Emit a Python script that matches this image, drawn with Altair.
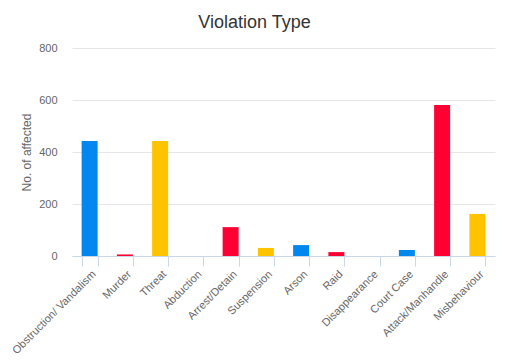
import altair as alt
import pandas as pd

categories = ["Obstruction/ Vandalism", "Murder", "Threat", "Abduction", "Arrest/Detain",
              "Suspension", "Arson", "Raid", "Disappearance", "Court Case",
              "Attack/Manhandle", "Misbehaviour"]
values = [442, 6, 442, 0, 111, 31, 42, 15, 0, 23, 581, 162]
colors = ["#0088ee", "#ff0033", "#ffc300"] * 4

df = pd.DataFrame({"cat": categories, "val": values, "color": colors})

chart = alt.Chart(df).mark_bar().encode(
    x=alt.X("cat:N", sort=categories, title=None,
            scale=alt.Scale(paddingInner=0.546, paddingOuter=0.273),
            axis=alt.Axis(labelAngle=-45, labelFontSize=11, labelColor="#666666",
                          labelFont="Liberation Sans", domainColor="#ccd6eb",
                          tickColor="#ccd6eb", tickSize=10, tickBand="extent",
                          grid=False, labelPadding=2)),
    y=alt.Y("val:Q", title="No. of affected",
            scale=alt.Scale(domain=[0, 800], nice=False),
            axis=alt.Axis(values=[0, 200, 400, 600, 800], domain=False, ticks=False,
                          gridColor="#e6e6e6", labelFontSize=11, labelColor="#666666",
                          labelFont="Liberation Sans", labelPadding=15,
                          titleFont="Liberation Sans", titleFontSize=12,
                          titleColor="#666666", titleFontWeight="normal",
                          titlePadding=5)),
    color=alt.Color("color:N", scale=None),
).properties(
    width=423, height=208,
    title=alt.TitleParams("Violation Type", font="Liberation Sans", fontSize=18,
                          fontWeight="normal", color="#333333", anchor="middle",
                          dx=-29, offset=10),
    autosize=alt.AutoSizeParams(type="none"),
    padding={"left": 64, "top": 40, "right": 3, "bottom": 100},
).configure_view(stroke=None)

chart.save("out.html", embed_options={"renderer": "svg", "actions": False})
